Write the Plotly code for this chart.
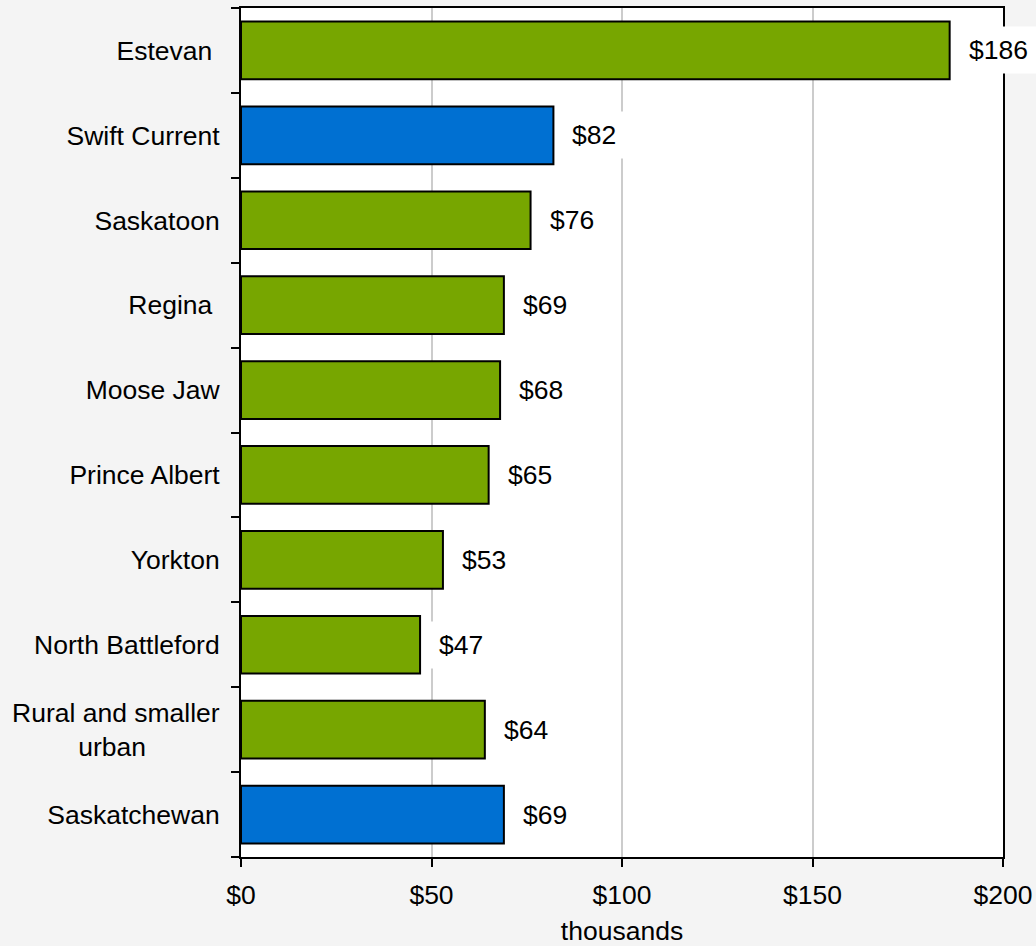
import plotly.graph_objects as go

categories = ["Estevan\u00a0", "Swift Current", "Saskatoon", "Regina\u00a0", "Moose Jaw",
              "Prince Albert", "Yorkton", "North Battleford",
              "Rural and smaller<br>urban" + "\u00a0" * 10,
              "Saskatchewan"]
values = [186, 82, 76, 69, 68, 65, 53, 47, 64, 69]
bar_colors = ["#77a600", "#0070d2", "#77a600", "#77a600", "#77a600",
              "#77a600", "#77a600", "#77a600", "#77a600", "#0070d2"]
x_tickvals = [0, 50, 100, 150, 200]
x_ticktext = ["$0", "$50", "$100", "$150", "$200"]

FONT = "Liberation Sans, Arial, sans-serif"
FS = 26.5

fig = go.Figure()
fig.add_trace(go.Bar(
    y=categories, x=values, orientation="h",
    marker=dict(color=bar_colors, line=dict(color="black", width=2)),
    width=0.68, hoverinfo="skip",
))

for c, v in zip(categories, values):
    fig.add_annotation(
        x=v, y=c, xref="x", yref="y", text=f"${v}", showarrow=False,
        xanchor="left", xshift=10, bgcolor="white", borderpad=8,
        font=dict(family=FONT, size=FS, color="black"),
    )

fig.update_layout(
    width=1036, height=946,
    margin=dict(l=241, r=33, t=8, b=89, autoexpand=False),
    paper_bgcolor="#f4f4f4", plot_bgcolor="white",
    font=dict(family=FONT, size=FS, color="black"),
    showlegend=False,
    bargap=0.32,
)
fig.update_xaxes(
    range=[0, 200], tickvals=x_tickvals, ticktext=x_ticktext,
    showgrid=True, gridcolor="#cccccc", gridwidth=2,
    showline=True, linecolor="black", linewidth=2, mirror=True,
    ticks="outside", ticklen=8, tickwidth=2, tickcolor="black",
    zeroline=False, automargin=False, ticklabelstandoff=5,
    title=dict(text="thousands", standoff=20, font=dict(family=FONT, size=FS)),
    tickfont=dict(family=FONT, size=FS),
)
fig.update_yaxes(
    categoryorder="array", categoryarray=categories[::-1],
    showline=True, linecolor="black", linewidth=2, mirror=True,
    ticks="outside", ticklen=8, tickwidth=2, tickcolor="black",
    tickson="boundaries", ticklabelstandoff=14, automargin=False,
    showgrid=False,
    tickfont=dict(family=FONT, size=FS),
)

fig.write_html("out.html")
